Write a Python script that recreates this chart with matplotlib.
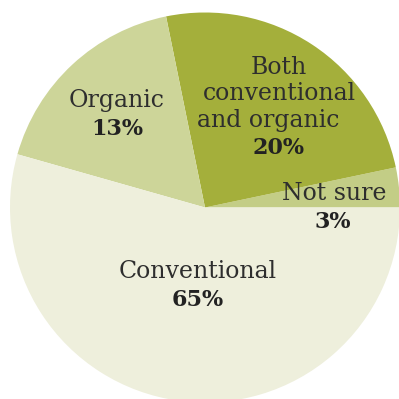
import matplotlib
matplotlib.use("Agg")
import matplotlib.pyplot as plt

# Data
categories = ["Not sure", "Both\nconventional\nand organic", "Organic", "Conventional"]
label_pcts = [3, 20, 13, 65]
# slice shares as drawn in the reference picture (angles)
slice_shares = [3.3, 24.9, 17.4, 54.4]
colors = ["#c3cd86", "#a4af3b", "#cdd599", "#eeefdc"]

W = H = 399
fig = plt.figure(figsize=(W / 100, H / 100), dpi=100)
ax = fig.add_axes([0, 0, 1, 1])

cx, cy, r = 205, 399 - 207.5, 195
ax.pie(slice_shares, colors=colors, startangle=0, counterclock=True,
       center=(cx, cy), radius=r, frame=True,
       wedgeprops=dict(linewidth=0))
ax.set_xlim(0, W)
ax.set_ylim(0, H)
ax.set_aspect("equal")
ax.axis("off")

lab_font = dict(family="DejaVu Serif", fontsize=17, color="#2e2e2e",
                ha="center", va="center", fontweight="light")
pct_font = dict(family="DejaVu Serif", fontsize=16, color="#222222",
                ha="center", va="center", fontweight="bold")

def py(y):
    return 399 - y

# label positions (pixel coords in reference)
label_lines = {
    0: [("Not sure", 334, 194)],
    1: [("Both", 279, 68), ("conventional", 279, 94), ("and organic", 268, 120)],
    2: [("Organic", 117, 101)],
    3: [("Conventional", 198, 272)],
}
pct_pos = {0: (333, 222), 1: (279, 148), 2: (117, 129), 3: (198, 300)}

for i in range(len(categories)):
    for txt, x, y in label_lines[i]:
        ax.text(x, py(y), txt, **lab_font)
    x, y = pct_pos[i]
    ax.text(x, py(y), f"{label_pcts[i]}%", **pct_font)

fig.savefig("out.png", dpi=100)
